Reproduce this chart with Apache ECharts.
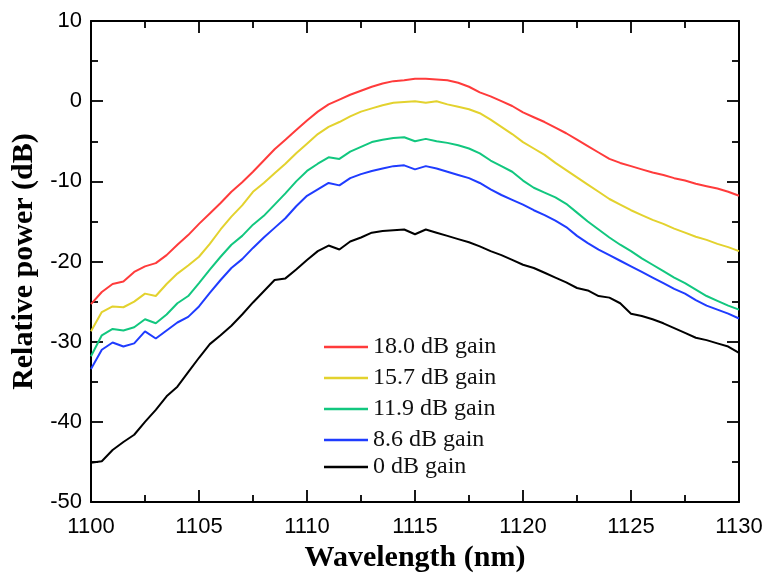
<!DOCTYPE html>
<html>
<head>
<meta charset="utf-8">
<script src="https://cdn.jsdelivr.net/npm/echarts@6/dist/echarts.min.js"></script>
<style>html,body{margin:0;padding:0;background:#fff}#c{width:770px;height:578px}</style>
</head>
<body>
<div id="c"></div>
<script>
const wavelengths = [1100,1100.5,1101,1101.5,1102,1102.5,1103,1103.5,1104,1104.5,
 1105,1105.5,1106,1106.5,1107,1107.5,1108,1108.5,1109,1109.5,
 1110,1110.5,1111,1111.5,1112,1112.5,1113,1113.5,1114,1114.5,
 1115,1115.5,1116,1116.5,1117,1117.5,1118,1118.5,1119,1119.5,
 1120,1120.5,1121,1121.5,1122,1122.5,1123,1123.5,1124,1124.5,
 1125,1125.5,1126,1126.5,1127,1127.5,1128,1128.5,1129,1129.5,
 1130];
const gain180 = [-25.3,-23.8,-22.8,-22.5,-21.3,-20.6,-20.2,-19.2,-17.9,-16.7,
 -15.3,-14.0,-12.7,-11.3,-10.1,-8.8,-7.4,-6.0,-4.8,-3.6,
 -2.4,-1.3,-0.4,0.2,0.8,1.3,1.8,2.2,2.5,2.6,
 2.8,2.8,2.7,2.6,2.3,1.8,1.1,0.6,0.0,-0.6,
 -1.4,-2.0,-2.6,-3.3,-4.0,-4.8,-5.6,-6.4,-7.2,-7.7,
 -8.1,-8.5,-8.9,-9.2,-9.6,-9.9,-10.3,-10.6,-10.9,-11.3,
 -11.8];
const gain157 = [-28.7,-26.3,-25.6,-25.7,-25.0,-24.0,-24.3,-22.8,-21.5,-20.5,
 -19.4,-17.8,-16.0,-14.4,-13.0,-11.3,-10.2,-9.0,-7.8,-6.5,
 -5.3,-4.1,-3.2,-2.6,-1.9,-1.3,-0.9,-0.5,-0.2,-0.1,
 0.0,-0.2,0.0,-0.4,-0.7,-1.0,-1.5,-2.3,-3.2,-4.1,
 -5.1,-5.9,-6.7,-7.7,-8.6,-9.5,-10.4,-11.3,-12.2,-12.9,
 -13.6,-14.2,-14.8,-15.3,-15.9,-16.4,-16.9,-17.3,-17.8,-18.2,
 -18.7];
const gain119 = [-31.8,-29.2,-28.4,-28.6,-28.2,-27.2,-27.7,-26.6,-25.2,-24.3,
 -22.7,-21.0,-19.4,-17.9,-16.8,-15.4,-14.3,-12.9,-11.5,-10.0,
 -8.7,-7.8,-7.0,-7.2,-6.3,-5.7,-5.1,-4.8,-4.6,-4.5,
 -5.0,-4.7,-5.0,-5.2,-5.5,-5.9,-6.5,-7.4,-8.1,-8.8,
 -9.9,-10.8,-11.4,-12.0,-12.8,-13.9,-15.0,-16.0,-17.0,-17.9,
 -18.7,-19.6,-20.4,-21.2,-22.0,-22.7,-23.5,-24.3,-24.9,-25.5,
 -26.0];
const gain86 = [-33.4,-31.0,-30.1,-30.6,-30.2,-28.7,-29.6,-28.6,-27.6,-26.9,
 -25.6,-23.9,-22.3,-20.8,-19.7,-18.3,-17.0,-15.8,-14.6,-13.1,
 -11.8,-11.0,-10.2,-10.5,-9.6,-9.1,-8.7,-8.4,-8.1,-8.0,
 -8.5,-8.1,-8.4,-8.8,-9.2,-9.6,-10.2,-11.0,-11.7,-12.3,
 -12.9,-13.6,-14.2,-14.9,-15.7,-16.8,-17.7,-18.5,-19.2,-19.9,
 -20.6,-21.3,-22.0,-22.7,-23.4,-24.0,-24.8,-25.5,-26.0,-26.5,
 -27.1];
const gain0 = [-45.1,-44.9,-43.5,-42.5,-41.6,-40.0,-38.5,-36.8,-35.6,-33.8,
 -32.0,-30.3,-29.2,-28.0,-26.6,-25.1,-23.7,-22.3,-22.1,-21.0,
 -19.8,-18.7,-18.0,-18.5,-17.5,-17.0,-16.4,-16.2,-16.1,-16.0,
 -16.6,-16.0,-16.4,-16.8,-17.2,-17.6,-18.1,-18.7,-19.2,-19.8,
 -20.4,-20.8,-21.4,-22.0,-22.6,-23.3,-23.6,-24.3,-24.5,-25.2,
 -26.5,-26.8,-27.2,-27.7,-28.3,-28.9,-29.5,-29.8,-30.2,-30.6,
 -31.4];
const seriesNames = ['18.0 dB gain','15.7 dB gain','11.9 dB gain','8.6 dB gain','0 dB gain'];
const seriesValues = [gain180, gain157, gain119, gain86, gain0];
const seriesColors = ['#ff3b3b','#e3d22e','#12c77f','#1f3cff','#000000'];
const xTicks = {min:1100, max:1130, interval:5};
const yTicks = {min:-50, max:10, interval:10};

const chart = echarts.init(document.getElementById('c'), null, {renderer:'canvas'});
const axisLine = {show:true, onZero:false, lineStyle:{color:'#000', width:2}};
const tickStyle = {color:'#000', width:1.8};
const labelFont = {color:'#000', fontFamily:'Liberation Sans, Arial', fontSize:22};
const nameFont = {color:'#000', fontFamily:'Liberation Serif, Times New Roman', fontSize:30, fontWeight:'bold'};
const legendFont = {color:'#111', fontFamily:'Liberation Serif, Times New Roman', fontSize:24, lineHeight:26};

chart.setOption({
  animation:false,
  backgroundColor:'#fff',
  grid:{left:91, right:31, top:21, bottom:71},
  xAxis:[{
    type:'value', position:'bottom', min:xTicks.min, max:xTicks.max, interval:xTicks.interval,
    name:'Wavelength (nm)', nameLocation:'middle', nameGap:36, nameTextStyle:nameFont,
    axisLine:axisLine,
    axisTick:{show:true, inside:true, length:12, lineStyle:tickStyle},
    minorTick:{show:true, splitNumber:2, length:7, lineStyle:tickStyle},
    axisLabel:Object.assign({margin:14, formatter:v=>String(v)}, labelFont),
    splitLine:{show:false}
  },{
    type:'value', position:'top', min:xTicks.min, max:xTicks.max, interval:xTicks.interval,
    axisLine:axisLine,
    axisTick:{show:true, inside:true, length:12, lineStyle:tickStyle},
    minorTick:{show:true, splitNumber:2, length:7, lineStyle:tickStyle},
    axisLabel:{show:false}, splitLine:{show:false}
  }],
  yAxis:[{
    type:'value', position:'left', min:yTicks.min, max:yTicks.max, interval:yTicks.interval,
    name:'Relative power (dB)', nameLocation:'middle', nameGap:52, nameTextStyle:nameFont,
    axisLine:axisLine,
    axisTick:{show:true, inside:true, length:12, lineStyle:tickStyle},
    minorTick:{show:true, splitNumber:2, length:7, lineStyle:tickStyle},
    axisLabel:Object.assign({margin:9, formatter:v=>String(v)}, labelFont),
    splitLine:{show:false}
  },{
    type:'value', position:'right', min:yTicks.min, max:yTicks.max, interval:yTicks.interval,
    axisLine:axisLine,
    axisTick:{show:true, inside:true, length:12, lineStyle:tickStyle},
    minorTick:{show:true, splitNumber:2, length:7, lineStyle:tickStyle},
    axisLabel:{show:false}, splitLine:{show:false}
  }],
  legend:[{
    data:seriesNames.slice(0,4), orient:'vertical', left:319, top:329,
    icon:'rect', itemWidth:44, itemHeight:2.5, itemGap:5, textStyle:legendFont
  },{
    data:seriesNames.slice(4), orient:'vertical', left:319, top:449,
    icon:'rect', itemWidth:44, itemHeight:2.5, itemGap:5, textStyle:legendFont
  }],
  series: seriesNames.map((n,i)=>({
    name:n, type:'line', xAxisIndex:0, yAxisIndex:0,
    symbol:'none', smooth:false,
    lineStyle:{color:seriesColors[i], width:2},
    itemStyle:{color:seriesColors[i]},
    data: wavelengths.map((w,k)=>[w, seriesValues[i][k]])
  }))
});
</script>
</body>
</html>
